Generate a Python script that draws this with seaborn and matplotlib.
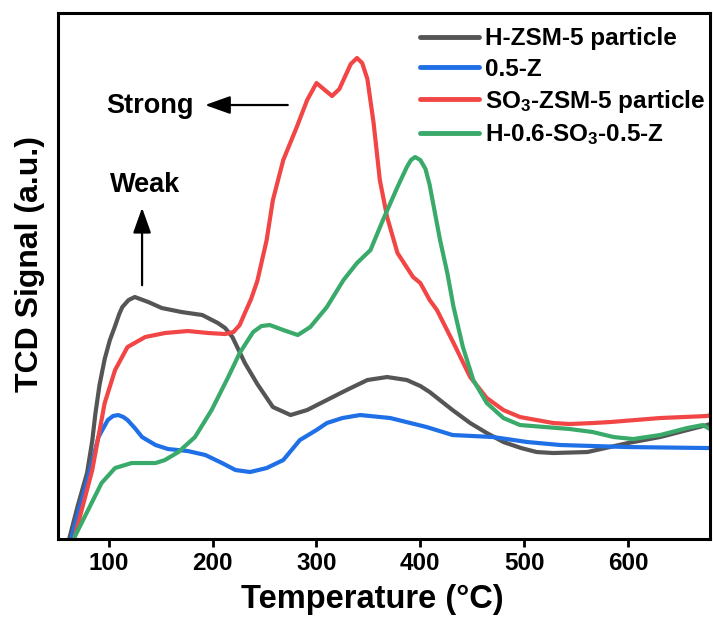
import numpy as np
import pandas as pd
import matplotlib
matplotlib.use("Agg")
import matplotlib.pyplot as plt
import seaborn as sns

# ---- data (temperature in °C, TCD signal in arbitrary units) ----
labels = ["H-ZSM-5 particle", "0.5-Z", "SO$_3$-ZSM-5 particle", "H-0.6-SO$_3$-0.5-Z"]
colors = ["#555555", "#1f6fe6", "#f24545", "#3aaa6b"]

t_gray = [62, 70, 79, 84, 87, 91, 96, 101, 106, 110, 113, 119, 125, 138, 151, 170, 190, 205, 212,
          219, 231, 243, 258, 275, 291, 310, 329, 349, 368, 387, 400, 409, 431, 448, 464, 480,
          497, 512, 528, 561, 600, 631, 676, 679]
s_gray = [1, 33, 66, 98, 125, 154, 180, 199, 213, 225, 232, 239, 242, 237, 231, 227, 224, 216, 211,
          202, 176, 155, 132, 124, 129, 139, 149, 159, 162, 159, 153, 147, 129, 116, 106, 97,
          91, 87, 86, 87, 96, 102, 114, 115]

t_blue = [64, 80, 90, 99, 104, 109, 114, 118, 125, 132, 145, 157, 176, 193, 209, 222, 236, 252,
          268, 284, 300, 310, 325, 342, 371, 406, 431, 470, 503, 535, 599, 676, 679]
s_blue = [2, 62, 102, 119, 123, 124, 122, 119, 111, 102, 94, 90, 88, 84, 76, 69, 67, 71,
          79, 99, 109, 116, 121, 124, 121, 112, 104, 102, 97, 94, 92, 91, 91]

t_red = [67, 84, 96, 106, 118, 135, 154, 176, 196, 212, 220, 226, 231, 237, 243, 252, 258, 268,
         281, 291, 300, 308, 315, 322, 333, 339, 344, 349, 355, 361, 368, 378, 393, 400, 409, 416,
         432, 448, 464, 480, 496, 528, 544, 566, 583, 631, 676, 679]
s_red = [2, 69, 136, 169, 192, 202, 206, 208, 206, 205, 207, 214, 226, 240, 258, 299, 339, 379,
         412, 439, 456, 449, 443, 450, 475, 481, 476, 460, 416, 359, 322, 286, 262, 256, 239, 229,
         196, 162, 141, 129, 122, 116, 115, 116, 117, 121, 123, 124]

t_green = [67, 80, 93, 106, 122, 145, 154, 167, 183, 199, 215, 226, 239, 247, 255, 268, 282, 294,
           310, 326, 339, 352, 364, 378, 387, 391, 395, 400, 405, 409, 419, 426, 432, 441, 451,
           464, 480, 496, 544, 566, 586, 605, 631, 657, 672, 679]
s_green = [2, 29, 56, 71, 76, 76, 79, 87, 102, 129, 162, 186, 207, 213, 214, 209, 204, 212,
           232, 259, 276, 289, 319, 352, 372, 379, 382, 379, 370, 354, 299, 266, 232, 192, 159,
           136, 121, 114, 110, 107, 102, 100, 104, 111, 114, 110]

x_ticks = [100, 200, 300, 400, 500, 600]

frames = []
for lab, t, s in zip(labels, [t_gray, t_blue, t_red, t_green], [s_gray, s_blue, s_red, s_green]):
    frames.append(pd.DataFrame({"T": t, "signal": s, "sample": lab}))
df = pd.concat(frames, ignore_index=True)

sns.set_style("white")
plt.rcParams["font.family"] = ["Liberation Sans", "DejaVu Sans"]
plt.rcParams["font.weight"] = "bold"
plt.rcParams["text.color"] = "black"
plt.rcParams["axes.labelcolor"] = "black"
plt.rcParams["xtick.color"] = "black"
plt.rcParams["mathtext.fontset"] = "custom"
plt.rcParams["mathtext.rm"] = "Liberation Sans:bold"
plt.rcParams["mathtext.it"] = "Liberation Sans:bold"
plt.rcParams["mathtext.bf"] = "Liberation Sans:bold"

fig = plt.figure(figsize=(7.13, 6.2), dpi=100)
ax = fig.add_axes([0.0813, 0.1306, 0.9145, 0.8484])

sns.lineplot(data=df, x="T", y="signal", hue="sample", hue_order=labels,
             palette=dict(zip(labels, colors)), estimator=None, sort=False,
             linewidth=3.0, ax=ax)

ax.set_xlim(51, 679)
ax.set_ylim(0, 526)
ax.set_xticks(x_ticks)
ax.set_yticks([])
ax.tick_params(axis="x", direction="out", length=6, width=2, labelsize=17.5, pad=3,
               bottom=True, colors="black")
for lbl in ax.get_xticklabels():
    lbl.set_fontweight("bold")
for sp in ax.spines.values():
    sp.set_linewidth(2.2)
    sp.set_color("black")

ax.set_xlabel("Temperature (\u00b0C)", fontsize=23.5, fontweight="bold", labelpad=4)
ax.xaxis.set_label_coords(0.482, -0.085)
ax.set_ylabel("TCD Signal (a.u.)", fontsize=23, fontweight="bold")
ax.yaxis.set_label_coords(-0.02, 0.523)

leg = ax.legend(loc="upper right", bbox_to_anchor=(1.0, 0.982), frameon=False, fontsize=17.5,
                handlelength=2.4, handletextpad=0.25, labelspacing=0.3,
                borderaxespad=0.0, borderpad=0.2)
for txt in leg.get_texts():
    txt.set_fontweight("bold")
    txt.set_color("black")
for line in leg.get_lines():
    line.set_linewidth(3.5)

# annotations
arrow_style = "-|>,head_length=0.7,head_width=0.25"
ax.annotate("", xy=(190, 434), xytext=(275, 434),
            arrowprops=dict(arrowstyle=arrow_style, lw=1.6, color="black", mutation_scale=22))
ax.text(140, 433, "Strong", fontsize=19.5, fontweight="bold", ha="center", va="center")
ax.annotate("", xy=(132, 334), xytext=(132, 251),
            arrowprops=dict(arrowstyle=arrow_style, lw=1.6, color="black", mutation_scale=22))
ax.text(135, 354, "Weak", fontsize=19.5, fontweight="bold", ha="center", va="center")

fig.savefig("out.png", dpi=100)
